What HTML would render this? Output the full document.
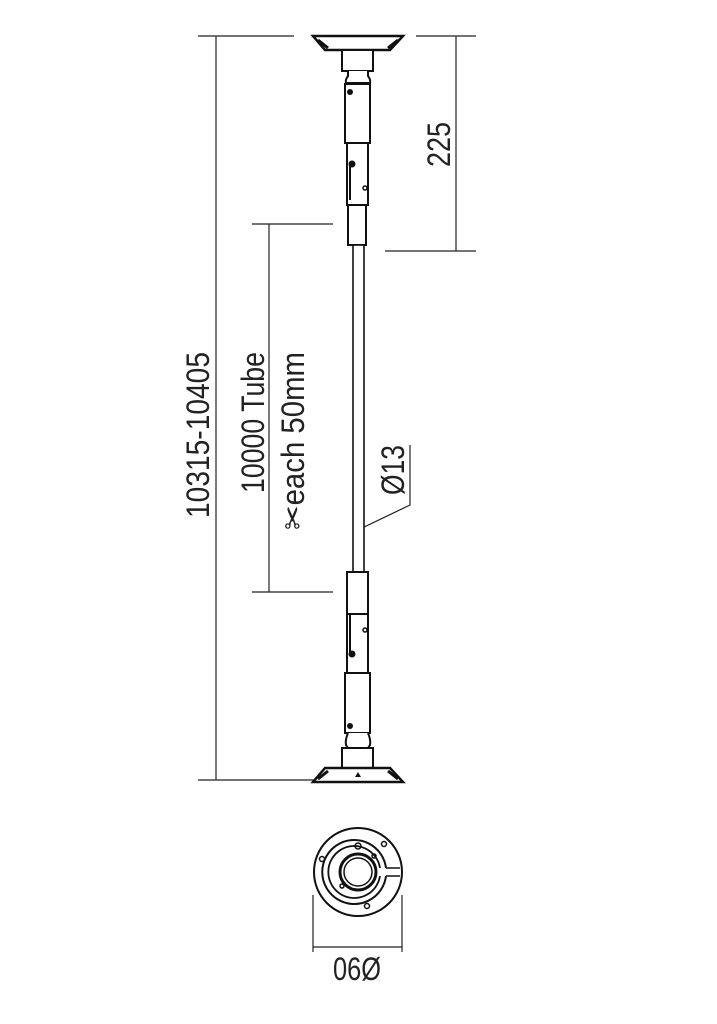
<!DOCTYPE html>
<html><head><meta charset="utf-8"><style>html,body{margin:0;padding:0;background:#fff}svg{display:block}</style></head>
<body>
<svg width="717" height="1024" viewBox="0 0 717 1024" xmlns="http://www.w3.org/2000/svg" font-family="Liberation Sans, sans-serif">
<g stroke="#222" stroke-width="1.2" fill="none">
<line x1="198" y1="36" x2="294" y2="36"/>
<line x1="216" y1="36" x2="216" y2="780"/>
<line x1="198" y1="780" x2="332" y2="780"/>
<line x1="252" y1="224" x2="333" y2="224"/>
<line x1="269" y1="224" x2="269" y2="592"/>
<line x1="252" y1="592" x2="333" y2="592"/>
<line x1="416" y1="36" x2="476" y2="36"/>
<line x1="456" y1="36" x2="456" y2="251"/>
<line x1="385" y1="251" x2="476" y2="251"/>
<polyline points="358,530 410,505 410,445"/>
<line x1="313" y1="895" x2="313" y2="952"/>
<line x1="402" y1="895" x2="402" y2="952"/>
<line x1="313" y1="947" x2="402" y2="947"/>
</g>
<g stroke="#111" stroke-width="2" fill="#fff">
<polygon points="313,36 403,36 390,50 325,50" stroke-width="2.5"/>
<line x1="318" y1="40" x2="328" y2="48" stroke-width="3"/>
<line x1="398" y1="40" x2="388" y2="48" stroke-width="3"/>
<rect x="342" y="50" width="31" height="21"/>
<path d="M348,71 L348,76 Q345,80 346,83 L370,83 Q371,80 368,76 L368,71"/>
<rect x="345" y="84" width="25" height="59"/>
<rect x="347" y="143" width="21" height="62"/>
<rect x="348" y="205" width="18" height="40"/>
<rect x="353" y="245" width="11" height="327" stroke-width="1.6"/>
<rect x="347" y="572" width="21" height="42"/>
<rect x="347" y="614" width="21" height="59"/>
<rect x="345" y="673" width="25" height="60"/>
<path d="M348,733 Q345,740 346,745 L348,748 L368,748 L370,745 Q371,740 368,733"/>
<rect x="342" y="748" width="31" height="20"/>
<polygon points="325,768 390,768 403,782 313,782" stroke-width="2.5"/>
<line x1="318" y1="779" x2="328" y2="771" stroke-width="3"/>
<line x1="398" y1="779" x2="388" y2="771" stroke-width="3"/>
</g>
<g fill="#111">
<circle cx="350" cy="92" r="3"/>
<circle cx="352" cy="164" r="3.5"/>
<rect x="349" y="165" width="2" height="35"/>
<circle cx="352" cy="654" r="3.5"/>
<rect x="349" y="614" width="2" height="38"/>
<circle cx="350" cy="726" r="3"/>
<polygon points="358,772 355,777 361,777"/>
</g>
<g stroke="#111" stroke-width="1.5" fill="none">
<circle cx="365" cy="188" r="2"/>
<circle cx="365" cy="630" r="2"/>
<circle cx="358" cy="872" r="44" stroke-width="2"/>
<path d="M386,868 A32,32 0 1 0 386,876" stroke-width="2"/>
<path d="M380,868 A26,26 0 1 0 380,876" stroke-width="1.8"/>
<line x1="386" y1="868" x2="400" y2="868"/>
<line x1="386" y1="876" x2="400" y2="876"/>
<circle cx="358" cy="872" r="18" stroke-width="3"/>
<circle cx="358" cy="872" r="14" stroke-width="1.5"/>
<circle cx="358" cy="846" r="3"/>
<circle cx="322" cy="859" r="2.5"/>
<circle cx="384" cy="844" r="2.5"/>
<circle cx="367" cy="906" r="2.5"/>
<circle cx="374" cy="856" r="2"/>
<circle cx="342" cy="886" r="2"/>
</g>
<g fill="#222" font-size="32">
<text transform="translate(209,518) rotate(-90)" textLength="166" lengthAdjust="spacingAndGlyphs">10315-10405</text>
<text transform="translate(264,493) rotate(-90)" textLength="141" lengthAdjust="spacingAndGlyphs">10000 Tube</text>
<text transform="translate(304,530) rotate(-90)" textLength="178" lengthAdjust="spacingAndGlyphs">✂each 50mm</text>
<text transform="translate(450,167) rotate(-90)" textLength="45" lengthAdjust="spacingAndGlyphs">225</text>
<text transform="translate(404,495) rotate(-90)" textLength="50" lengthAdjust="spacingAndGlyphs">Ø13</text>
<text x="333" y="980" textLength="48" lengthAdjust="spacingAndGlyphs">06Ø</text>
</g>
</svg>
</body></html>
